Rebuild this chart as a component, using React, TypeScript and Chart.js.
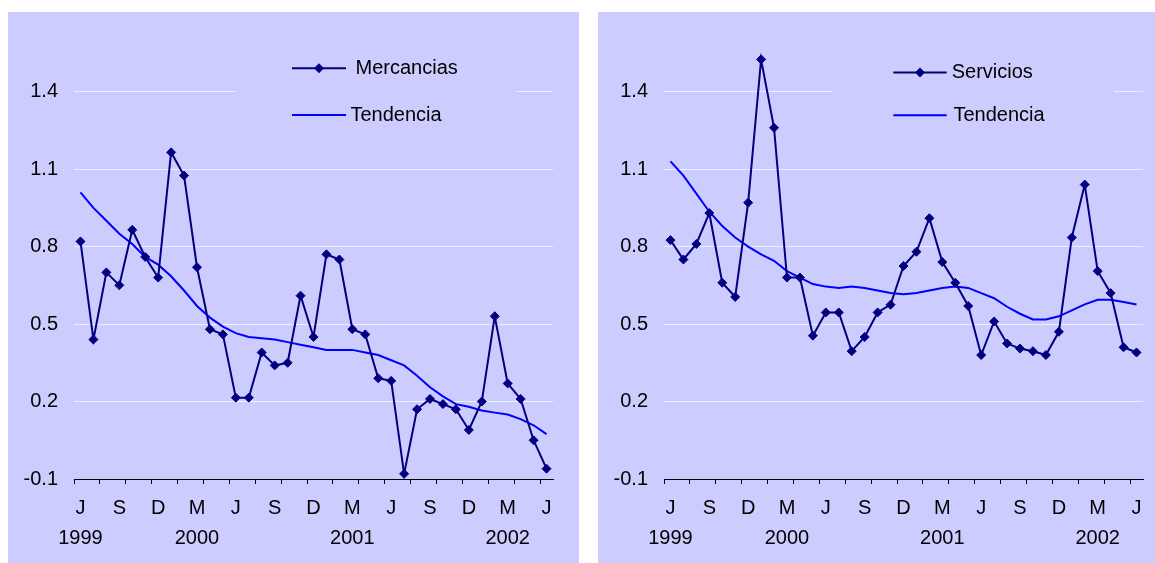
import React, { useEffect, useRef } from 'react';
import { Chart, registerables } from 'chart.js';

Chart.register(...registerables);

const categories = [
  'jun-1999', 'jul-1999', 'ago-1999', 'sep-1999', 'oct-1999', 'nov-1999', 'dic-1999',
  'ene-2000', 'feb-2000', 'mar-2000', 'abr-2000', 'may-2000', 'jun-2000', 'jul-2000',
  'ago-2000', 'sep-2000', 'oct-2000', 'nov-2000', 'dic-2000',
  'ene-2001', 'feb-2001', 'mar-2001', 'abr-2001', 'may-2001', 'jun-2001', 'jul-2001',
  'ago-2001', 'sep-2001', 'oct-2001', 'nov-2001', 'dic-2001',
  'ene-2002', 'feb-2002', 'mar-2002', 'abr-2002', 'may-2002', 'jun-2002',
];

const tickLabelIdx = [0, 3, 6, 9, 12, 15, 18, 21, 24, 27, 30, 33, 36];
const tickLetters = ['J', 'S', 'D', 'M', 'J', 'S', 'D', 'M', 'J', 'S', 'D', 'M', 'J'];
const yearLabelIdx = [0, 9, 21, 33];
const yearLabels = ['1999', '2000', '2001', '2002'];

const yTicks = [-0.1, 0.2, 0.5, 0.8, 1.1, 1.4];

const mercancias = [
  0.82, 0.44, 0.70, 0.65, 0.865, 0.76, 0.68, 1.165, 1.075, 0.72, 0.48, 0.46,
  0.215, 0.215, 0.39, 0.34, 0.35, 0.61, 0.45, 0.77, 0.75, 0.48, 0.46, 0.29,
  0.28, -0.08, 0.17, 0.21, 0.19, 0.17, 0.09, 0.20, 0.53, 0.27, 0.21, 0.05, -0.06,
];
const tendenciaMercancias = [
  1.01, 0.95, 0.90, 0.85, 0.81, 0.76, 0.73, 0.685, 0.63, 0.57, 0.525, 0.49,
  0.465, 0.45, 0.445, 0.44, 0.43, 0.42, 0.41, 0.40, 0.40, 0.40, 0.39, 0.38,
  0.36, 0.34, 0.30, 0.255, 0.22, 0.19, 0.18, 0.165, 0.157, 0.15, 0.132, 0.108, 0.074,
];
const servicios = [
  0.825, 0.75, 0.81, 0.93, 0.66, 0.605, 0.97, 1.525, 1.26, 0.68, 0.68, 0.455,
  0.545, 0.545, 0.395, 0.45, 0.545, 0.575, 0.725, 0.78, 0.91, 0.74, 0.66, 0.57,
  0.38, 0.51, 0.425, 0.405, 0.395, 0.38, 0.47, 0.835, 1.04, 0.705, 0.62, 0.41, 0.39,
];
const tendenciaServicios = [
  1.13, 1.075, 1.005, 0.935, 0.88, 0.835, 0.80, 0.77, 0.745, 0.705, 0.68, 0.655,
  0.645, 0.64, 0.645, 0.64, 0.63, 0.62, 0.615, 0.62, 0.63, 0.64, 0.645, 0.64,
  0.62, 0.60, 0.567, 0.54, 0.518, 0.518, 0.53, 0.553, 0.576, 0.594, 0.594, 0.585, 0.576,
];

const BG = '#CCCCFF';
const NAVY = '#000080';
const BLUE = '#0000FF';
const GRID = '#EEEEFF';
const FONT_FAMILY = "'Liberation Sans', Arial, Helvetica, sans-serif";

type LegendCfg = {
  box: [number, number, number, number];
  lineX1: number;
  lineX2: number;
  row1Y: number;
  row2Y: number;
  text1X: number;
  text2X: number;
  text1Base: number;
  text2Base: number;
  label1: string;
};

function drawDiamond(ctx: CanvasRenderingContext2D, x: number, y: number, r: number) {
  ctx.beginPath();
  ctx.moveTo(x, y - r);
  ctx.lineTo(x + r, y);
  ctx.lineTo(x, y + r);
  ctx.lineTo(x - r, y);
  ctx.closePath();
  ctx.fill();
}

function makeLegendPlugin(cfg: LegendCfg) {
  return {
    id: 'customLegend',
    beforeDatasetsDraw(chart: any) {
      const ctx: CanvasRenderingContext2D = chart.ctx;
      ctx.save();
      ctx.fillStyle = BG;
      ctx.fillRect(cfg.box[0], cfg.box[1], cfg.box[2], cfg.box[3]);
      ctx.lineWidth = 2;
      ctx.strokeStyle = NAVY;
      ctx.beginPath();
      ctx.moveTo(cfg.lineX1, cfg.row1Y);
      ctx.lineTo(cfg.lineX2, cfg.row1Y);
      ctx.stroke();
      ctx.fillStyle = NAVY;
      drawDiamond(ctx, (cfg.lineX1 + cfg.lineX2) / 2, cfg.row1Y, 5);
      ctx.strokeStyle = BLUE;
      ctx.beginPath();
      ctx.moveTo(cfg.lineX1, cfg.row2Y);
      ctx.lineTo(cfg.lineX2, cfg.row2Y);
      ctx.stroke();
      ctx.fillStyle = '#000';
      ctx.font = `20px ${FONT_FAMILY}`;
      ctx.textBaseline = 'alphabetic';
      ctx.textAlign = 'left';
      ctx.fillText(cfg.label1, cfg.text1X, cfg.text1Base);
      ctx.fillText('Tendencia', cfg.text2X, cfg.text2Base);
      ctx.restore();
    },
  };
}

type PanelProps = {
  left: number;
  width: number;
  series: number[];
  trend: number[];
  label: string;
  padRight: number;
  legend: LegendCfg;
};

function Panel({ left, width, series, trend, label, padRight, legend }: PanelProps) {
  const ref = useRef<HTMLCanvasElement>(null);
  useEffect(() => {
    if (!ref.current) return;
    const chart = new Chart(ref.current, {
      type: 'line',
      data: {
        labels: categories,
        datasets: [
          {
            label,
            data: series,
            borderColor: NAVY,
            backgroundColor: NAVY,
            borderWidth: 2,
            pointStyle: 'rectRot',
            pointRadius: 4.5,
            pointBorderWidth: 1,
            pointBackgroundColor: NAVY,
            pointBorderColor: NAVY,
            tension: 0,
            clip: false as any,
          },
          {
            label: 'Tendencia',
            data: trend,
            borderColor: BLUE,
            backgroundColor: BLUE,
            borderWidth: 2,
            pointRadius: 0,
            tension: 0,
            clip: false as any,
          },
        ],
      },
      options: {
        responsive: false,
        animation: false,
        devicePixelRatio: 1,
        layout: { padding: { left: 0, right: padRight, top: 27.5, bottom: 0 } },
        plugins: {
          legend: { display: false },
          tooltip: { enabled: false },
          title: { display: false },
        },
        scales: {
          x: {
            type: 'category',
            offset: true,
            grid: {
              display: true,
              offset: true,
              drawOnChartArea: false,
              drawTicks: true,
              tickLength: 5,
              tickWidth: 1,
              tickColor: (ctx: any) => (ctx.index % 2 === 0 ? '#000' : 'rgba(0,0,0,0)'),
            },
            border: { display: true, color: '#000', width: 1 },
            ticks: {
              autoSkip: false,
              maxRotation: 0,
              minRotation: 0,
              padding: 9.5,
              color: '#000',
              font: { family: FONT_FAMILY, size: 20, lineHeight: 1.5 },
              callback: (_v: any, index: number) => {
                const k = tickLabelIdx.indexOf(index);
                if (k < 0) return '';
                const y = yearLabelIdx.indexOf(index);
                return y >= 0 ? [tickLetters[k], yearLabels[y]] : tickLetters[k];
              },
            },
            afterFit: (scale: any) => {
              scale.height = 84;
            },
          },
          y: {
            type: 'linear',
            min: -0.1,
            max: 1.6,
            afterBuildTicks: (scale: any) => {
              scale.ticks = yTicks.map((v) => ({ value: v }));
            },
            afterFit: (scale: any) => {
              scale.width = 66;
            },
            grid: {
              drawTicks: false,
              lineWidth: 1,
              color: (ctx: any) =>
                ctx.tick && Math.abs(ctx.tick.value + 0.1) < 1e-9 ? 'rgba(0,0,0,0)' : GRID,
            },
            border: { display: false },
            ticks: {
              padding: 16,
              color: '#000',
              font: { family: FONT_FAMILY, size: 20 },
              callback: (v: any) => Number(v).toFixed(1),
            },
          },
        },
      },
      plugins: [makeLegendPlugin(legend)],
    });
    return () => chart.destroy();
  }, []);
  return (
    <canvas
      ref={ref}
      width={width}
      height={551}
      style={{ position: 'absolute', left, top: 12, width, height: 551, background: BG }}
    />
  );
}

export default function App() {
  return (
    <div style={{ position: 'absolute', left: 0, top: 0, width: 1155, height: 563, background: '#fff', overflow: 'hidden' }}>
      <Panel
        left={8}
        width={571}
        series={mercancias}
        trend={tendenciaMercancias}
        label="Mercancias"
        padRight={26}
        legend={{
          box: [228, 33, 280, 95],
          lineX1: 284,
          lineX2: 338,
          row1Y: 56.3,
          row2Y: 103,
          text1X: 347.5,
          text2X: 342.5,
          text1Base: 62.3,
          text2Base: 109,
          label1: 'Mercancias',
        }}
      />
      <Panel
        left={598}
        width={557}
        series={servicios}
        trend={tendenciaServicios}
        label="Servicios"
        padRight={12}
        legend={{
          box: [235, 33, 281, 95],
          lineX1: 295.3,
          lineX2: 348.7,
          row1Y: 60.5,
          row2Y: 103.3,
          text1X: 353.7,
          text2X: 355.5,
          text1Base: 65.7,
          text2Base: 109,
          label1: 'Servicios',
        }}
      />
    </div>
  );
}
